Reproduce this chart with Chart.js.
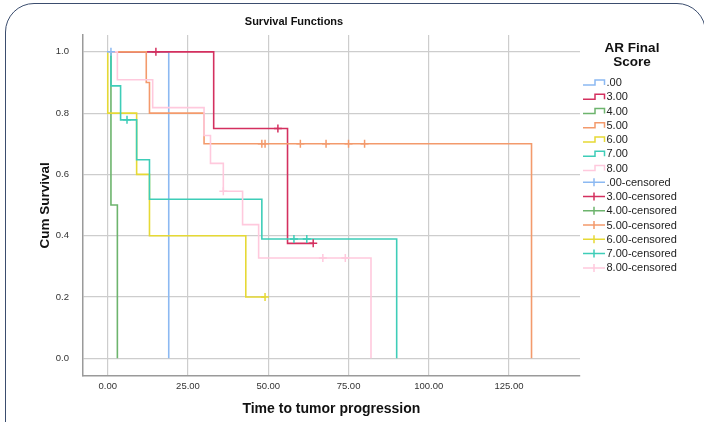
<!DOCTYPE html>
<html>
<head>
<meta charset="utf-8">
<script src="https://cdn.jsdelivr.net/npm/chart.js@4"></script>
<style>
  html, body { margin: 0; padding: 0; background: #fff; }
  #wrap { position: relative; width: 704px; height: 422px; overflow: hidden; }
  #frame {
    position: absolute; left: 5px; top: 3px; width: 701px; height: 520px;
    border: 1.5px solid #3b4d6e; border-radius: 29px; box-sizing: border-box;
  }
  #survivalChart { position: absolute; left: 0; top: 0; }
</style>
</head>
<body>
<div id="wrap">
  <div id="frame"></div>
  <canvas id="survivalChart" width="704" height="422"></canvas>
</div>
<script>
// Groups of the AR final score
const groupNames = ['.00', '3.00', '4.00', '5.00', '6.00', '7.00', '8.00'];
const groupColors = ['#8cb9f2', '#d4305f', '#6db46d', '#f39a6c', '#e6d935', '#3ecdb8', '#ffc9dd'];

// Kaplan-Meier step points (time, cumulative survival) for each group
const stepTimes = [
    [0, 19],
    [0, 33, 56, 64],
    [0, 1, 3],
    [0, 12, 13, 30, 132],
    [0, 0, 9, 13, 43, 49],
    [0, 1, 4, 9, 13, 48, 90],
    [0, 3, 14, 30, 32, 36, 42, 47, 82]
];
const stepSurvival = [
    [1, 0],
    [1, 0.75, 0.375, 0.375],
    [1, 0.5, 0],
    [1, 0.9, 0.8, 0.7, 0],
    [1, 0.8, 0.6, 0.4, 0.2, 0.2],
    [1, 0.889, 0.778, 0.648, 0.519, 0.389, 0],
    [1, 0.909, 0.818, 0.727, 0.636, 0.545, 0.436, 0.327, 0]
];

// Censored cases
const censorTimes = [
    [1],
    [15, 53, 64],
    [],
    [48, 49, 60, 68, 75, 80],
    [49],
    [6, 58, 62],
    [36, 67, 74]
];
const censorSurvival = [
    [1],
    [1, 0.75, 0.375],
    [],
    [0.7, 0.7, 0.7, 0.7, 0.7, 0.7],
    [0.2],
    [0.778, 0.389, 0.389],
    [0.545, 0.327, 0.327]
];

const xTicks = [0, 25, 50, 75, 100, 125];
const yTicks = [0, 0.2, 0.4, 0.6, 0.8, 1.0];

const datasets = [];
groupNames.forEach((name, i) => {
    datasets.push({
        label: name,
        type: 'line',
        data: stepTimes[i].map((t, j) => ({ x: t, y: stepSurvival[i][j] })),
        // horizontal first, then drop at the event time
        stepped: 'before',
        borderColor: groupColors[i],
        borderWidth: 1.6,
        pointRadius: 0,
        fill: false,
        order: 20 - i
    });
});
groupNames.forEach((name, i) => {
    datasets.push({
        label: name + '-censored',
        type: 'scatter',
        data: censorTimes[i].map((t, j) => ({ x: t, y: censorSurvival[i][j] })),
        showLine: false,
        pointStyle: 'cross',
        pointRadius: 4,
        borderWidth: 1.5,
        borderColor: groupColors[i],
        order: 1
    });
});

// Title and the step/cross legend on the right
const extrasPlugin = {
    id: 'extras',
    afterDraw(chart) {
        const ctx = chart.ctx;
        ctx.save();
        ctx.fillStyle = '#111';
        ctx.textAlign = 'center';
        ctx.textBaseline = 'middle';
        ctx.font = 'bold 11px "Liberation Sans", Arial, sans-serif';
        ctx.fillText('Survival Functions', 294, 22);

        ctx.font = 'bold 13.5px "Liberation Sans", Arial, sans-serif';
        ctx.fillText('AR Final', 632, 48);
        ctx.fillText('Score', 632, 62);

        ctx.font = '11px "Liberation Sans", Arial, sans-serif';
        ctx.textAlign = 'left';
        const labels = groupNames.concat(groupNames.map(n => n + '-censored'));
        labels.forEach((label, k) => {
            const y = 82.5 + k * 14.26;
            const color = groupColors[k % groupNames.length];
            ctx.strokeStyle = color;
            ctx.lineWidth = 1.5;
            ctx.beginPath();
            if (k < groupNames.length) {
                ctx.moveTo(583, y + 2.5);
                ctx.lineTo(595, y + 2.5);
                ctx.lineTo(595, y - 2.5);
                ctx.lineTo(604.5, y - 2.5);
                ctx.lineTo(604.5, y + 2.5);
            } else {
                ctx.moveTo(583, y);
                ctx.lineTo(605, y);
                ctx.moveTo(594, y - 4);
                ctx.lineTo(594, y + 4);
            }
            ctx.stroke();
            ctx.fillStyle = '#222';
            ctx.fillText(label, 606.5, y + 0.5);
        });
        ctx.restore();
    }
};

const tickFont = { family: '"Liberation Sans", Arial, sans-serif', size: 9.5 };
const titleFont = { family: '"Liberation Sans", Arial, sans-serif', size: 14, weight: 'bold' };

new Chart(document.getElementById('survivalChart'), {
    type: 'line',
    data: { datasets },
    options: {
        responsive: false,
        animation: false,
        layout: { padding: { left: 0, right: 124, top: 35, bottom: 0 } },
        plugins: {
            legend: { display: false },
            tooltip: { enabled: false },
            title: { display: false }
        },
        scales: {
            x: {
                type: 'linear',
                min: -7.8,
                max: 147.1,
                afterBuildTicks: s => { s.ticks = xTicks.map(v => ({ value: v })); },
                afterFit: s => { s.height = 46.3; },
                ticks: { callback: v => v.toFixed(2), font: tickFont, color: '#333', padding: 5, maxRotation: 0 },
                grid: { color: '#cdcdcd', lineWidth: 1.2, drawTicks: false },
                border: { color: '#9a9a9a', width: 1.5 },
                title: { display: true, text: 'Time to tumor progression', font: titleFont, color: '#111', padding: { top: 0, bottom: 4.6 } }
            },
            y: {
                type: 'linear',
                min: -0.057,
                max: 1.055,
                afterBuildTicks: s => { s.ticks = yTicks.map(v => ({ value: v })); },
                afterFit: s => { s.width = 82.7; },
                ticks: { callback: v => v.toFixed(1), font: tickFont, color: '#333', padding: 13.7 },
                grid: { color: '#cdcdcd', lineWidth: 1.2, drawTicks: false },
                border: { color: '#9a9a9a', width: 1.5 },
                title: { display: true, text: 'Cum Survival', font: { ...titleFont, size: 13.5 }, color: '#111', padding: { top: 37, bottom: 0 } }
            }
        }
    },
    plugins: [extrasPlugin]
});
</script>
</body>
</html>
